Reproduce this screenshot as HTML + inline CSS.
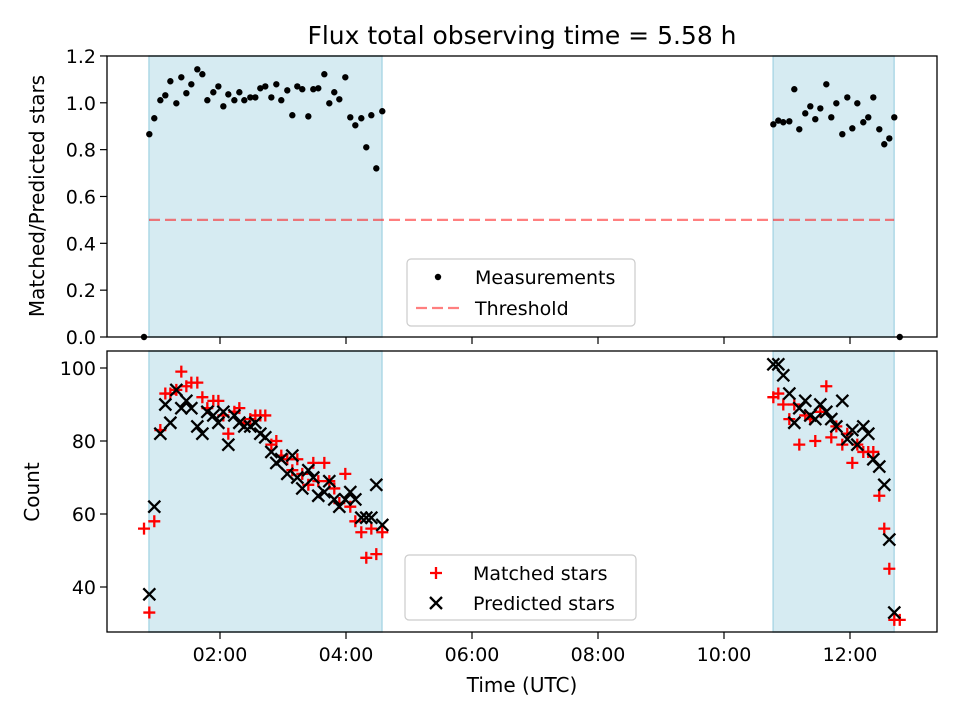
<!DOCTYPE html>
<html><head><meta charset="utf-8"><style>
body{margin:0;background:#fff}
svg{display:block;font-family:"DejaVu Sans","Liberation Sans",sans-serif}
</style></head><body>
<svg id="fig" width="960" height="720" viewBox="0 0 960 720">
<text x="522" y="44" font-size="25" text-anchor="middle">Flux total observing time = 5.58 h</text>
<g id="topPanel"></g>
<g id="botPanel"></g>
<text transform="translate(44,196) rotate(-90)" font-size="20" text-anchor="middle">Matched/Predicted stars</text>
<text transform="translate(39,492) rotate(-90)" font-size="20" text-anchor="middle">Count</text>
<text x="522" y="692" font-size="20" text-anchor="middle">Time (UTC)</text>
</svg>
<script>
const ratioTimes=[0.794,0.878,0.957,1.053,1.132,1.212,1.307,1.386,1.466,1.545,1.640,1.720,1.799,1.894,1.974,2.053,2.132,2.228,2.307,2.386,2.481,2.561,2.640,2.719,2.815,2.894,2.973,3.068,3.148,3.227,3.306,3.402,3.481,3.560,3.656,3.735,3.814,3.894,3.989,4.068,4.148,4.243,4.322,4.402,4.481,4.576,
10.783,10.862,10.941,11.037,11.116,11.195,11.290,11.370,11.449,11.529,11.624,11.703,11.783,11.878,11.957,12.037,12.116,12.211,12.290,12.370,12.465,12.544,12.624,12.703,12.79];
const ratioValues=[0,0.866,0.934,1.011,1.032,1.092,0.998,1.109,1.041,1.079,1.143,1.122,1.011,1.045,1.070,0.985,1.036,1.011,1.045,1.011,1.023,1.023,1.062,1.070,1.023,1.079,1.011,1.053,0.947,1.070,1.058,0.942,1.058,1.062,1.122,0.998,1.045,1.015,1.109,0.938,0.904,0.934,0.810,0.947,0.720,0.964,
0.908,0.924,0.917,0.921,1.058,0.887,0.955,0.985,0.930,0.976,1.079,0.938,0.998,0.866,1.023,0.891,0.998,0.917,0.938,1.023,0.887,0.823,0.848,0.938,0];
const countTimes=[0.878,0.957,1.053,1.132,1.212,1.307,1.386,1.466,1.545,1.640,1.720,1.799,1.894,1.974,2.053,2.132,2.228,2.307,2.386,2.481,2.561,2.640,2.719,2.815,2.894,2.973,3.068,3.148,3.227,3.306,3.402,3.481,3.560,3.656,3.735,3.814,3.894,3.989,4.068,4.148,4.243,4.322,4.402,4.481,4.576,
10.783,10.862,10.941,11.037,11.116,11.195,11.290,11.370,11.449,11.529,11.624,11.703,11.783,11.878,11.957,12.037,12.116,12.211,12.290,12.370,12.465,12.544,12.624,12.703];
const predictedStars=[38,62,82,90,85,94,89,91,89,84,82,88,87,85,88,79,87,85,84,84,85,82,81,77,74,75,71,76,70,67,72,70,65,66,69,64,62,64,66,64,59,59,59,68,57,
101,101,98,93,85,89,91,87,86,90,88,86,84,91,80.5,83,79,84,82,75,73,68,53,33];
const matchedStars=[33,58,83,93,93,94,99,95,96,96,92,89,91,91,87,82,88,89,85,86,87,87,87,79,80,76,75,72,75,71,68,74,69,74,69,67,63,71,62,58,55,48,56,49,55,
92,93,90,86,90,79,87,86,80,88,95,81,84,79,82,74,79,77,77,77,65,56,45,31];
const extraMatchedTimes=[0.794,12.79];
const extraMatchedValues=[56,31];
const windows=[[0.873,4.571],[10.78,12.70]];
const ratioTicks=[0,0.2,0.4,0.6,0.8,1.0,1.2];
const countTicks=[40,60,80,100];
const timeTicks=[2,4,6,8,10,12];
const timeLabels=["02:00","04:00","06:00","08:00","10:00","12:00"];
const threshold=0.5, thresholdRange=[0.873,12.70];

const NS="http://www.w3.org/2000/svg";
function mk(p,tag,a){const e=document.createElementNS(NS,tag);for(const k in a)e.setAttribute(k,a[k]);p.appendChild(e);return e;}
const X0=107,X1=937;
const xs=h=>94+63*h;
const yTop=v=>337-234.2*v;
const yBot=v=>368-(v-100)*3.65;
const topG=document.getElementById('topPanel'), botG=document.getElementById('botPanel');

function panel(g,y0,y1,ys,ticks,fmt,labelsX){
  windows.forEach(w=>{
    const r=mk(g,'rect',{x:xs(w[0]),y:y0,width:xs(w[1])-xs(w[0]),height:y1-y0,fill:'#add8e6','fill-opacity':0.5,stroke:'#add8e6','stroke-width':1.5});
    
    
  });
  ticks.forEach(t=>{
    const y=ys(t);
    const l=mk(g,'line',{x1:X0-7,x2:X0,y1:y,y2:y,stroke:'#000','stroke-width':1.2});
    
    
    const tx=mk(g,'text',{x:X0-11,y:y+7,'font-size':19,'text-anchor':'end'});
    tx.textContent=fmt(t);
    
    
  });
  timeTicks.forEach((t,i)=>{
    const x=xs(t);
    const l=mk(g,'line',{x1:x,x2:x,y1:y1,y2:y1+7,stroke:'#000','stroke-width':1.2});
    
    
    if(labelsX){
      const tx=mk(g,'text',{x:x,y:y1+29,'font-size':19,'text-anchor':'middle'});
      tx.textContent=timeLabels[i];
      
      
    }
  });
}
panel(topG,56,337,yTop,ratioTicks,v=>v.toFixed(1),false);
panel(botG,351,632,yBot,countTicks,v=>String(v),true);

const th=mk(topG,'line',{x1:xs(thresholdRange[0]),x2:xs(thresholdRange[1]),y1:yTop(threshold),y2:yTop(threshold),stroke:'#ff0000','stroke-opacity':0.5,'stroke-width':2.2,'stroke-dasharray':'11 5'});


ratioTimes.forEach((t,i)=>{
  const c=mk(topG,'circle',{cx:xs(t),cy:yTop(ratioValues[i]),r:3.2,fill:'#000'});
  
  
});
function plus(g,x,y){
  const p=mk(g,'path',{d:`M${x-6},${y}H${x+6}M${x},${y-6}V${y+6}`,stroke:'#ff0000','stroke-width':2.3});
  
  
}
function cross(g,x,y){
  const p=mk(g,'path',{d:`M${x-6},${y-6}L${x+6},${y+6}M${x-6},${y+6}L${x+6},${y-6}`,stroke:'#000','stroke-width':2.3});
  
  
}
countTimes.forEach((t,i)=>plus(botG,xs(t),yBot(matchedStars[i])));
extraMatchedTimes.forEach((t,i)=>plus(botG,xs(t),yBot(extraMatchedValues[i])));
countTimes.forEach((t,i)=>cross(botG,xs(t),yBot(predictedStars[i])));

[[topG,56,337],[botG,351,632]].forEach(([g,a,b])=>{
  const r=mk(g,'rect',{x:X0,y:a,width:X1-X0,height:b-a,fill:'none',stroke:'#000','stroke-width':1.3});
  
  
});

const svg=document.getElementById('fig');
const lg1=mk(svg,'g',{});


mk(lg1,'rect',{x:407,y:259,width:228,height:67,rx:4,fill:'#fff','fill-opacity':0.8,stroke:'#ccc','stroke-width':1.2});
mk(lg1,'circle',{cx:438,cy:277,r:3.2,fill:'#000'});
const lt1=mk(lg1,'text',{x:475,y:284,'font-size':19});lt1.textContent='Measurements';


mk(lg1,'line',{x1:416,x2:460,y1:308,y2:308,stroke:'#ff0000','stroke-opacity':0.5,'stroke-width':2.2,'stroke-dasharray':'11 5'});
const lt2=mk(lg1,'text',{x:475,y:315,'font-size':19});lt2.textContent='Threshold';



const lg2=mk(svg,'g',{});


mk(lg2,'rect',{x:405,y:555,width:231,height:65,rx:4,fill:'#fff','fill-opacity':0.8,stroke:'#ccc','stroke-width':1.2});
plus(lg2,436,573);
const lt3=mk(lg2,'text',{x:473,y:580,'font-size':19});lt3.textContent='Matched stars';


cross(lg2,436,603);
const lt4=mk(lg2,'text',{x:473,y:610,'font-size':19});lt4.textContent='Predicted stars';


</script>
</body></html>
